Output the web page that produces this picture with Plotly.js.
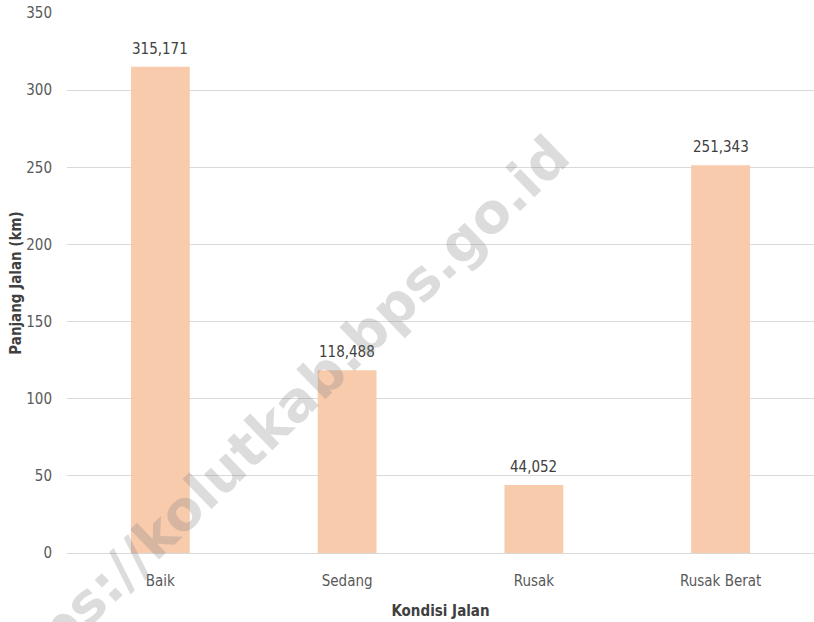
<!DOCTYPE html>
<html>
<head>
<meta charset="utf-8">
<script src="https://cdn.plot.ly/plotly-3.0.1.min.js"></script>
<style>html,body{margin:0;padding:0;background:#fff;}#chart{width:814px;height:622px;}</style>
</head>
<body>
<div id="chart"></div>
<script>
const categories = ["Baik", "Sedang", "Rusak", "Rusak Berat"];
const values = [315.171, 118.488, 44.052, 251.343];
const valueLabels = ["315,171", "118,488", "44,052", "251,343"];
const yTicks = [0, 50, 100, 150, 200, 250, 300, 350];

const FONT = "'DejaVu Sans Condensed', 'Liberation Sans Narrow', sans-serif";

const trace = {
  type: "bar",
  x: categories,
  y: values,
  marker: {color: "#F8CBAD"},
  hoverinfo: "none"
};

const labelAnnotations = categories.map((c, i) => ({
  x: c, y: values[i], xref: "x", yref: "y",
  text: valueLabels[i], showarrow: false,
  xanchor: "center", yanchor: "bottom", yshift: 7,
  font: {family: FONT, size: 15, color: "#404040"}
}));

const layout = {
  width: 814, height: 622,
  margin: {l: 67, r: 0, t: 13, b: 69},
  paper_bgcolor: "#ffffff", plot_bgcolor: "#ffffff",
  showlegend: false,
  bargap: 0.685,
  font: {family: FONT, color: "#595959", size: 15},
  xaxis: {
    type: "category",
    showgrid: false, zeroline: false, showline: false,
    ticks: "", ticklabelstandoff: 17,
    tickfont: {family: FONT, size: 15, color: "#595959"},
    title: {text: "<b>Kondisi Jalan</b>", font: {family: FONT, size: 15, color: "#404040"}, standoff: 16},
    automargin: false
  },
  yaxis: {
    range: [0, 350], tickvals: yTicks, ticktext: yTicks.map(String),
    showgrid: true, gridcolor: "#D9D9D9", gridwidth: 1,
    zeroline: true, zerolinecolor: "#D9D9D9", zerolinewidth: 1,
    showline: false, ticks: "", ticklabelstandoff: 14,
    tickfont: {family: FONT, size: 15, color: "#595959"},
    title: {text: "<b>Panjang Jalan (km)</b>", font: {family: FONT, size: 15, color: "#404040"}, standoff: 0},
    automargin: false
  },
  annotations: labelAnnotations.concat([{
    text: "<b>https://kolutkab.bps.go.id</b>",
    xref: "paper", yref: "paper", x: 0.272, y: 0.235,
    xanchor: "center", yanchor: "middle",
    showarrow: false, textangle: -44,
    font: {family: "'DejaVu Sans', sans-serif", size: 55, color: "rgba(128,128,128,0.28)"}
  }])
};

Plotly.newPlot("chart", [trace], layout, {displayModeBar: false, staticPlot: true});
</script>
</body>
</html>
